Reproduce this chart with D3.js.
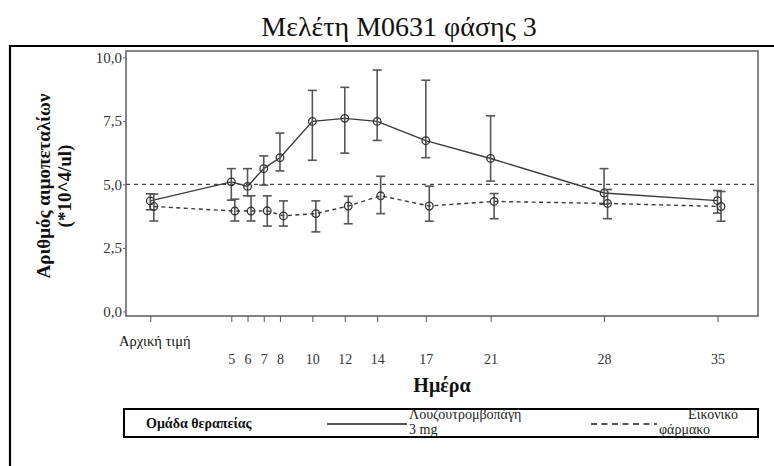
<!DOCTYPE html>
<html>
<head>
<meta charset="utf-8">
<script src="https://cdn.jsdelivr.net/npm/d3@7"></script>
<style>
  body { margin: 0; background: #fff; }
</style>
</head>
<body>
<script>
// data (platelets, *10^4/ul)
var days = [0, 5, 6, 7, 8, 10, 12, 14, 17, 21, 28, 35];
var dayLabels = ["Αρχική τιμή", "5", "6", "7", "8", "10", "12", "14", "17", "21", "28", "35"];
var lusoMean = [4.35, 5.1, 4.92, 5.62, 6.05, 7.48, 7.6, 7.48, 6.72, 6.02, 4.66, 4.36];
var lusoLow = [4.0, 4.38, 4.55, 4.97, 5.53, 5.95, 6.23, 6.73, 6.05, 5.13, 4.22, 3.87];
var lusoHigh = [4.63, 5.62, 5.62, 6.12, 7.02, 8.7, 8.82, 9.5, 9.1, 7.7, 5.62, 4.76];
var placMean = [4.13, 3.95, 3.95, 3.96, 3.76, 3.85, 4.15, 4.55, 4.15, 4.33, 4.25, 4.13];
var placLow = [3.56, 3.56, 3.56, 3.36, 3.36, 3.13, 3.45, 3.85, 3.55, 3.65, 3.65, 3.55];
var placHigh = [4.62, 4.42, 4.55, 4.55, 4.35, 4.35, 4.53, 5.32, 4.93, 4.64, 4.8, 4.72];
var yTicks = [0, 2.5, 5, 7.5, 10];
var refLine = 5;

var W = 774, H = 466;
var plot = {left: 126, top: 51, right: 758, bottom: 316};
var serif = "'Liberation Serif'";

var svg = d3.select("body").append("svg")
    .attr("width", W)
    .attr("height", H);

// small helper for the text elements
function label(sel, size, weight, fill) {
  return sel.style("font-family", serif)
      .style("font-size", size + "px")
      .style("font-weight", weight || "normal")
      .attr("fill", fill || "#222");
}

// scales
var x = d3.scaleLinear().domain([-1.5, 37.5]).range([plot.left, plot.right]);
var y = d3.scaleLinear().domain([-0.18, 10.25]).range([plot.bottom, plot.top]);

// title
label(svg.append("text")
    .attr("x", 399).attr("y", 36)
    .attr("text-anchor", "middle")
    .text("Μελέτη M0631 φάσης 3"), 28, "normal", "#111");

// outer frame (top + left)
svg.append("path")
    .attr("d", "M10,466 L10,46 L774,46")
    .attr("fill", "none")
    .attr("stroke", "#000")
    .attr("stroke-width", 2.2);

// plot frame
svg.append("rect")
    .attr("x", plot.left).attr("y", plot.top)
    .attr("width", plot.right - plot.left)
    .attr("height", plot.bottom - plot.top)
    .attr("fill", "none")
    .attr("stroke", "#666")
    .attr("stroke-width", 1.6);

// axes
var yAxis = d3.axisLeft(y)
    .tickValues(yTicks)
    .tickSize(3)
    .tickPadding(1)
    .tickFormat(function(d) { return d3.format(".1f")(d).replace(".", ","); });
var yAxisGroup = svg.append("g")
    .attr("transform", "translate(" + plot.left + ",0)")
    .call(yAxis)
    .attr("font-family", null)
    .attr("font-size", null);
yAxisGroup.select(".domain").remove();
yAxisGroup.selectAll("line").attr("stroke", "#666");
label(yAxisGroup.selectAll("text"), 15, "normal", "#333");

var xAxis = d3.axisBottom(x)
    .tickValues(days)
    .tickSize(6)
    .tickFormat(function(d, i) { return dayLabels[i]; });
var xAxisGroup = svg.append("g")
    .attr("transform", "translate(0," + plot.bottom + ")")
    .call(xAxis)
    .attr("font-family", null)
    .attr("font-size", null);
xAxisGroup.select(".domain").remove();
xAxisGroup.selectAll("line").attr("stroke", "#555");
label(xAxisGroup.selectAll("text"), 14, "normal", "#333")
    .attr("y", function(d) { return d == 0 ? 25 : 44; })
    .attr("dy", "0.32em")
    .attr("dx", function(d) { return d == 0 ? 4 : 0; });
xAxisGroup.selectAll("text").filter(function(d) { return d == 0; })
    .style("font-size", "14.5px")
    .attr("fill", "#111");

// axis titles
label(svg.append("text")
    .attr("x", 442).attr("y", 392)
    .attr("text-anchor", "middle")
    .text("Ημέρα"), 20, "bold", "#111");

var yTitle = label(svg.append("text")
    .attr("transform", "translate(50,186) rotate(-90)")
    .attr("text-anchor", "middle"), 19, "bold", "#111");
yTitle.append("tspan").attr("x", 0).attr("dy", 0).text("Αριθμός αιμοπεταλίων");
yTitle.append("tspan").attr("x", 0).attr("dy", 21).text("(*10^4/ul)");

// reference line at 5
svg.append("line")
    .attr("x1", plot.left).attr("x2", plot.right)
    .attr("y1", y(refLine)).attr("y2", y(refLine))
    .attr("stroke", "#444")
    .attr("stroke-width", 1.3)
    .attr("stroke-dasharray", "4,4");

// series
var series = [
  {mean: lusoMean, low: lusoLow, high: lusoHigh, dx: 0, dash: null},
  {mean: placMean, low: placLow, high: placHigh, dx: 3.5, dash: "4,3.5"}
];

series.forEach(function(s) {
  var pts = days.map(function(d, i) {
    return {day: d, m: s.mean[i], lo: s.low[i], hi: s.high[i]};
  });
  var g = svg.append("g");

  var line = d3.line()
      .x(function(d) { return x(d.day) + s.dx; })
      .y(function(d) { return y(d.m); });

  g.append("path")
      .datum(pts)
      .attr("d", line)
      .attr("fill", "none")
      .attr("stroke", "#3a3a3a")
      .attr("stroke-width", 1.4)
      .attr("stroke-dasharray", s.dash);

  // error bars
  g.selectAll(".bar").data(pts).enter().append("line")
      .attr("x1", function(d) { return x(d.day) + s.dx; })
      .attr("x2", function(d) { return x(d.day) + s.dx; })
      .attr("y1", function(d) { return y(d.lo); })
      .attr("y2", function(d) { return y(d.hi); })
      .attr("stroke", "#555")
      .attr("stroke-width", 1.6);
  [ "lo", "hi" ].forEach(function(k) {
    g.selectAll(".cap" + k).data(pts).enter().append("line")
        .attr("x1", function(d) { return x(d.day) + s.dx - 4.5; })
        .attr("x2", function(d) { return x(d.day) + s.dx + 4.5; })
        .attr("y1", function(d) { return y(d[k]); })
        .attr("y2", function(d) { return y(d[k]); })
        .attr("stroke", "#555")
        .attr("stroke-width", 1.6);
  });

  g.selectAll("circle").data(pts).enter().append("circle")
      .attr("cx", function(d) { return x(d.day) + s.dx; })
      .attr("cy", function(d) { return y(d.m); })
      .attr("r", 3.8)
      .attr("fill", "none")
      .attr("stroke", "#333")
      .attr("stroke-width", 1.3);
});

// legend
var leg = svg.append("g");
leg.append("rect")
    .attr("x", 124).attr("y", 409)
    .attr("width", 634).attr("height", 28)
    .attr("fill", "none")
    .attr("stroke", "#000")
    .attr("stroke-width", 2);
label(leg.append("text")
    .attr("x", 146).attr("y", 428)
    .text("Ομάδα θεραπείας"), 14, "bold", "#111");
leg.append("line")
    .attr("x1", 327).attr("x2", 407)
    .attr("y1", 424).attr("y2", 424)
    .attr("stroke", "#555")
    .attr("stroke-width", 2.2);
label(leg.append("text")
    .attr("x", 409).attr("y", 419)
    .text("Λουζουτρομβοπάγη"), 14);
label(leg.append("text")
    .attr("x", 409).attr("y", 434)
    .text("3 mg"), 14);
leg.append("line")
    .attr("x1", 591).attr("x2", 657)
    .attr("y1", 424).attr("y2", 424)
    .attr("stroke", "#555")
    .attr("stroke-width", 2.2)
    .attr("stroke-dasharray", "6,4.5");
label(leg.append("text")
    .attr("x", 738).attr("y", 419)
    .attr("text-anchor", "end")
    .text("Εικονικό"), 14);
label(leg.append("text")
    .attr("x", 659).attr("y", 434)
    .text("φάρμακο"), 14);
</script>
</body>
</html>
